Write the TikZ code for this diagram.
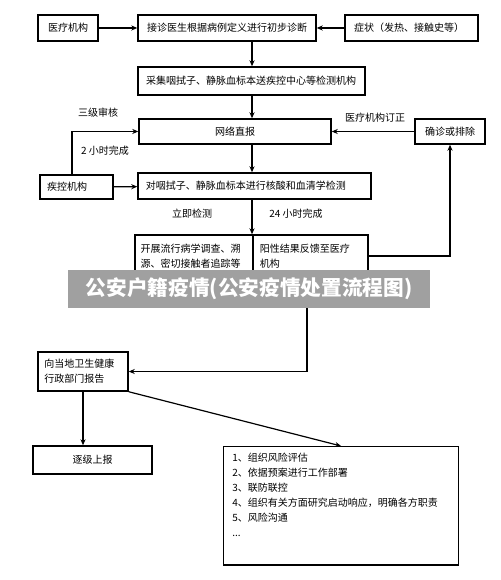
\documentclass[tikz,border=0pt]{standalone}
\usepackage{fontspec}
\setmainfont{Noto Sans CJK SC}
\usetikzlibrary{arrows.meta}
\definecolor{bannergray}{RGB}{160,160,160}

\begin{document}
\begin{tikzpicture}[x=0.75pt,y=-0.75pt,
	every node/.style={font=\fontsize{7.5}{11.25}\selectfont},
	box/.style={draw,line width=1.1pt,inner sep=0pt,fill=white},
	note/.style={inner sep=0pt},
	link/.style={line width=0.9pt,-{Stealth[length=4.5pt,width=3.8pt]}},
	banner/.style={fill=bannergray,text=white,inner sep=0pt,
		minimum width=271.5pt,minimum height=28.5pt,
		font=\fontsize{15.5}{18}\selectfont\bfseries}]
	\useasboundingbox (0,0) rectangle (500,580);
	\coordinate (spine) at (252,0);

	\node[box,minimum width=45pt,minimum height=19.5pt] (clinic) at (68,28) {医疗机构};
	\node[box,minimum width=133.5pt,minimum height=19.5pt] (diagnose) at (227,28) {接诊医生根据病例定义进行初步诊断};
	\node[box,minimum width=99.75pt,minimum height=19.5pt,text width=86pt,align=left] (symptom) at (411.5,28) {症状（发热、接触史等）};
	\node[box,minimum width=170.25pt,minimum height=21pt,text width=158pt,align=left] (sample) at (251.5,81) {采集咽拭子、静脉血标本送疾控中心等检测机构};
	\node[box,minimum width=144pt,minimum height=18.75pt] (report) at (235,131.5) {网络直报};
	\node[box,minimum width=52.5pt,minimum height=18.75pt] (confirm) at (450,131.5) {确诊或排除};
	\node[box,minimum width=54.75pt,minimum height=18pt,text width=44pt,align=left] (cdc) at (76.5,187) {疾控机构};
	\node[box,minimum width=174.75pt,minimum height=19.5pt,text width=163pt,align=left] (test) at (254.5,186) {对咽拭子、静脉血标本进行核酸和血清学检测};
	\node[box,minimum width=88.5pt,minimum height=31.5pt,text width=80pt,align=left] (survey) at (194,256) {开展流行病学调查、溯\\源、密切接触者追踪等};
	\node[box,minimum width=86.25pt,minimum height=31.5pt,text width=76pt,align=left] (positive) at (310.5,256) {阳性结果反馈至医疗\\机构};
	\node[box,minimum width=67.5pt,minimum height=29.25pt,text width=58pt,align=left] (health) at (83,371.5) {向当地卫生健康\\行政部门报告};
	\node[box,minimum width=89.25pt,minimum height=21pt] (upward) at (92.5,460) {逐级上报};
	\node[box,anchor=north west,text width=163pt,inner xsep=6.5pt,inner ysep=4.5pt,align=left] (measures) at (223,446) {1、组织风险评估\\2、依据预案进行工作部署\\3、联防联控\\4、组织有关方面研究启动响应，明确各方职责\\5、风险沟通\\...\\[6pt]~};

	\node[note] (review) at (98,113) {三级审核};
	\node[note] (correct) at (375,118) {医疗机构订正};
	\node[note] (twohours) at (105,151) {2 小时完成};
	\node[note] (atonce) at (192,214) {立即检测};
	\node[note] (oneday) at (296,214) {24 小时完成};

	\draw[link] (clinic) -- (diagnose);
	\draw[link] (symptom) -- (diagnose);
	\draw[link] (spine |- diagnose.south) -- (spine |- sample.north);
	\draw[link] (spine |- sample.south) -- (spine |- report.north);
	\draw[link] (confirm) -- (report);
	\draw[link] ([xshift=-3.4pt]cdc.north) |- (report.west);
	\draw[link] (cdc) -- (test);
	\draw[link] (spine |- report.south) -- (spine |- test.north);
	\draw[link] (spine |- test.south) -- (spine |- survey.north);
	\draw[link] (positive.east) -| (confirm.south);
	\draw[link] ([xshift=-2.6pt]positive.south) |- (health.east);
	\draw[link] (health.south) -- (health.south |- upward.north);
	\draw[link] (health.south east) -- (measures.north);

	\node[banner] (title) at (249,289) {公安户籍疫情(公安疫情处置流程图)};
\end{tikzpicture}
\end{document}
